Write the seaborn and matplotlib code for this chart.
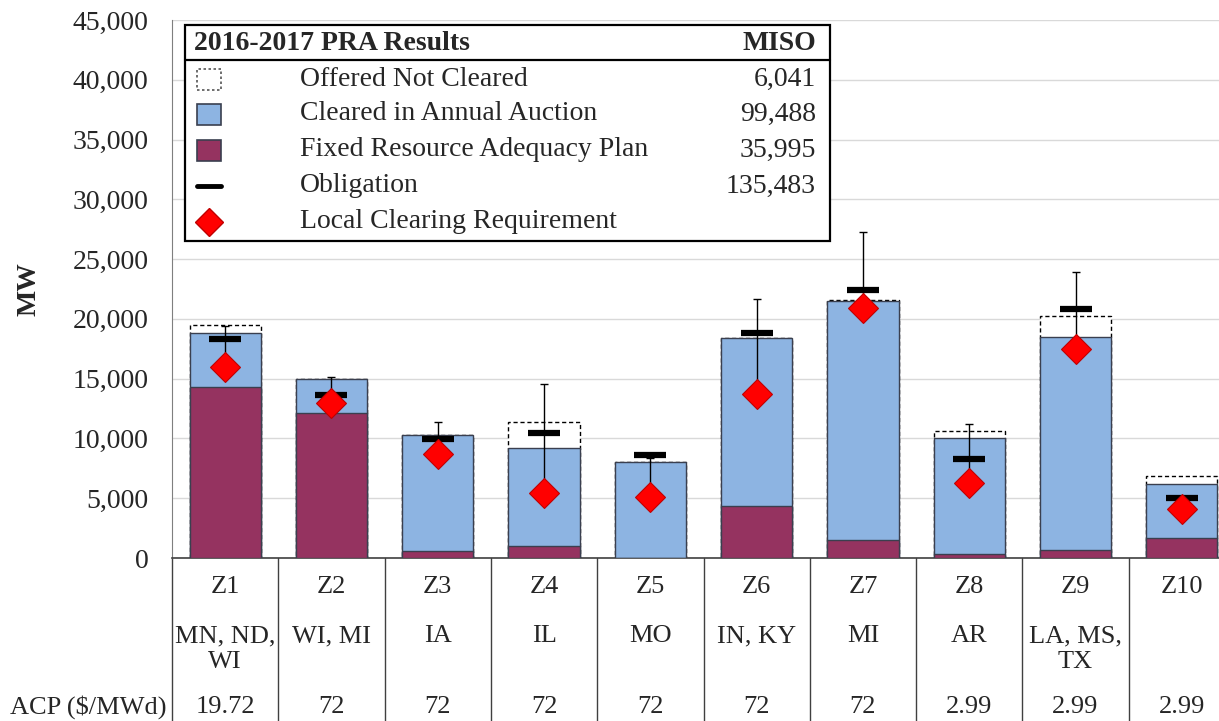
import matplotlib
matplotlib.use('Agg')
import numpy as np
import pandas as pd
import matplotlib.pyplot as plt
import seaborn as sns
from matplotlib.patches import Rectangle
from matplotlib.lines import Line2D
from matplotlib.ticker import FuncFormatter

# Zone data (MW)
zones = ['Z1', 'Z2', 'Z3', 'Z4', 'Z5', 'Z6', 'Z7', 'Z8', 'Z9', 'Z10']
states = ['MN, ND,\nWI', 'WI, MI', 'IA', 'IL', 'MO', 'IN, KY', 'MI', 'AR', 'LA, MS,\nTX', '']
acp = ['19.72', '72', '72', '72', '72', '72', '72', '2.99', '2.99', '2.99']
frap = [14300, 12150, 590, 1000, 0, 4370, 1480, 360, 670, 1700]
cleared_top = [18800, 14950, 10250, 9220, 8000, 18400, 21500, 10000, 18450, 6160]
offered_top = [19450, 14950, 10250, 11400, 8000, 18400, 21600, 10650, 20260, 6860]
obligation = [18300, 13600, 9950, 10420, 8600, 18800, 22400, 8300, 20800, 4990]
lcr = [15950, 12950, 8700, 5460, 5070, 13700, 20900, 6250, 17450, 4070]
whisker_top = [19400, 15150, 11400, 14550, 8400, 21700, 27250, 11230, 23900, 4950]

# legend table
legend_title = '2016-2017 PRA Results'
legend_col = 'MISO'
legend_labels = ['Offered Not Cleared', 'Cleared in Annual Auction',
                 'Fixed Resource Adequacy Plan', 'Obligation', 'Local Clearing Requirement']
legend_values = ['6,041', '99,488', '35,995', '135,483', '']

BLUE = '#8DB4E2'
MAROON = '#953360'
EDGE = '#3A3F4F'
FS = 20     # legend / tick font size
TFS = 19    # table font size

df = pd.DataFrame({'zone': zones, 'frap': frap, 'cleared': cleared_top,
                   'offered': offered_top})

sns.set_style('white')
plt.rcParams['font.family'] = ['Liberation Serif', 'DejaVu Serif']

W, H = 1219, 721
fig = plt.figure(figsize=(W / 100, H / 100), dpi=100)
ax = fig.add_axes([172 / W, 1 - 558 / H, (W - 172) / W, (558 - 20) / H])

bw = 0.67
sns.barplot(data=df, x='zone', y='offered', color='white', edgecolor='black',
            linestyle=(0, (3, 2)), linewidth=1, width=bw, saturation=1, ax=ax, zorder=2)
sns.barplot(data=df, x='zone', y='cleared', color=BLUE, edgecolor=EDGE,
            linewidth=1, width=bw, saturation=1, ax=ax, zorder=3)
sns.barplot(data=df, x='zone', y='frap', color=MAROON, edgecolor=EDGE,
            linewidth=1, width=bw, saturation=1, ax=ax, zorder=4)

pos = np.arange(len(zones))
lcr_a = np.array(lcr)
up = np.array(whisker_top) - lcr_a
ax.errorbar(pos, lcr_a, yerr=[np.zeros_like(up), up], fmt='none', ecolor='black',
            elinewidth=1, capsize=3, capthick=1, zorder=5)
ax.plot(pos, obligation, linestyle='none', marker='_', markersize=23,
        markeredgewidth=4.5, color='black', zorder=6)
ax.plot(pos, lcr, linestyle='none', marker='D', markersize=15,
        markerfacecolor='#FF0000', markeredgecolor='#C00000', markeredgewidth=0.8, zorder=7)

# axes styling
ax.set_ylim(0, 45000)
ax.set_yticks(np.arange(0, 45001, 5000))
ax.yaxis.set_major_formatter(FuncFormatter(lambda v, p: f'{int(v):,}'))
ax.set_xlim(-0.5, -0.5 + (W - 172) / 106.3)
ax.grid(axis='y', color='#D9D9D9', linewidth=1)
ax.set_axisbelow(True)
ax.tick_params(axis='y', length=0, pad=17, labelsize=FS)
ax.tick_params(axis='x', length=0, labelbottom=False)
ax.set_xlabel('')
ax.set_ylabel('MW', fontsize=FS, fontweight='bold')
ax.yaxis.set_label_coords(-130 / (W - 172), 0.5)
for s in ['top', 'right']:
    ax.spines[s].set_visible(False)
ax.spines['left'].set_color('#7F7F7F')
ax.spines['bottom'].set_color('#404040')
ax.spines['bottom'].set_linewidth(1.2)

# table under the axis
ax_h = 558 - 20
def ay(py):
    return (558 - py) / ax_h
tr = ax.get_xaxis_transform()
for k in range(len(zones) + 1):
    ax.plot([k - 0.5, k - 0.5], [0, ay(H + 5)], color='#404040', lw=1,
            transform=tr, clip_on=False)
for i in range(len(zones)):
    ax.text(i, ay(587), zones[i], transform=tr, ha='center', va='center', fontsize=TFS)
    for j, line in enumerate(states[i].split('\n')):
        ax.text(i, ay(636 + 26 * j), line, transform=tr, ha='center', va='center',
                fontsize=TFS)
    ax.text(i, ay(707), acp[i], transform=tr, ha='center', va='center', fontsize=TFS)
fig.text(167 / W, 1 - 707 / H, 'ACP ($/MWd)', ha='right', va='center', fontsize=TFS)

# legend table box
def fx(px):
    return px / W
def fy(py):
    return 1 - py / H
fig.add_artist(Rectangle((fx(185), fy(241)), (830 - 185) / W, (241 - 25) / H,
                         transform=fig.transFigure, facecolor='white',
                         edgecolor='black', linewidth=1.6, zorder=10))
fig.add_artist(Line2D([fx(185), fx(830)], [fy(60), fy(60)], color='black',
                      lw=1.6, zorder=11))
fig.text(fx(194), fy(43), legend_title, ha='left', va='center', fontsize=FS,
         fontweight='bold', zorder=12)
fig.text(fx(816), fy(43), legend_col, ha='right', va='center', fontsize=FS,
         fontweight='bold', zorder=12)
row_y = [79, 114, 150, 186, 222]
sw, sh = 24, 21
icon_style = [dict(facecolor='white', edgecolor='#555555', linestyle=(0, (1.5, 1.5))),
              dict(facecolor=BLUE, edgecolor=EDGE, linestyle='-'),
              dict(facecolor=MAROON, edgecolor=EDGE, linestyle='-')]
for j, (lab, val) in enumerate(zip(legend_labels, legend_values)):
    y = row_y[j]
    if j < 3:
        fig.add_artist(Rectangle((fx(197), fy(y + sh / 2)), sw / W, sh / H,
                                 transform=fig.transFigure, linewidth=1.2,
                                 zorder=12, **icon_style[j]))
    elif j == 3:
        fig.add_artist(Line2D([fx(197), fx(221)], [fy(y), fy(y)], color='black',
                              lw=3.5, zorder=12))
    else:
        fig.add_artist(Line2D([fx(209)], [fy(y)], marker='D', markersize=14,
                              markerfacecolor='#FF0000', markeredgecolor='#C00000',
                              linestyle='none', zorder=12))
    fig.text(fx(300), fy(y), lab, ha='left', va='center', fontsize=FS, zorder=12)
    if val:
        fig.text(fx(816), fy(y), val, ha='right', va='center', fontsize=FS, zorder=12)

fig.savefig('out.png', dpi=100)
